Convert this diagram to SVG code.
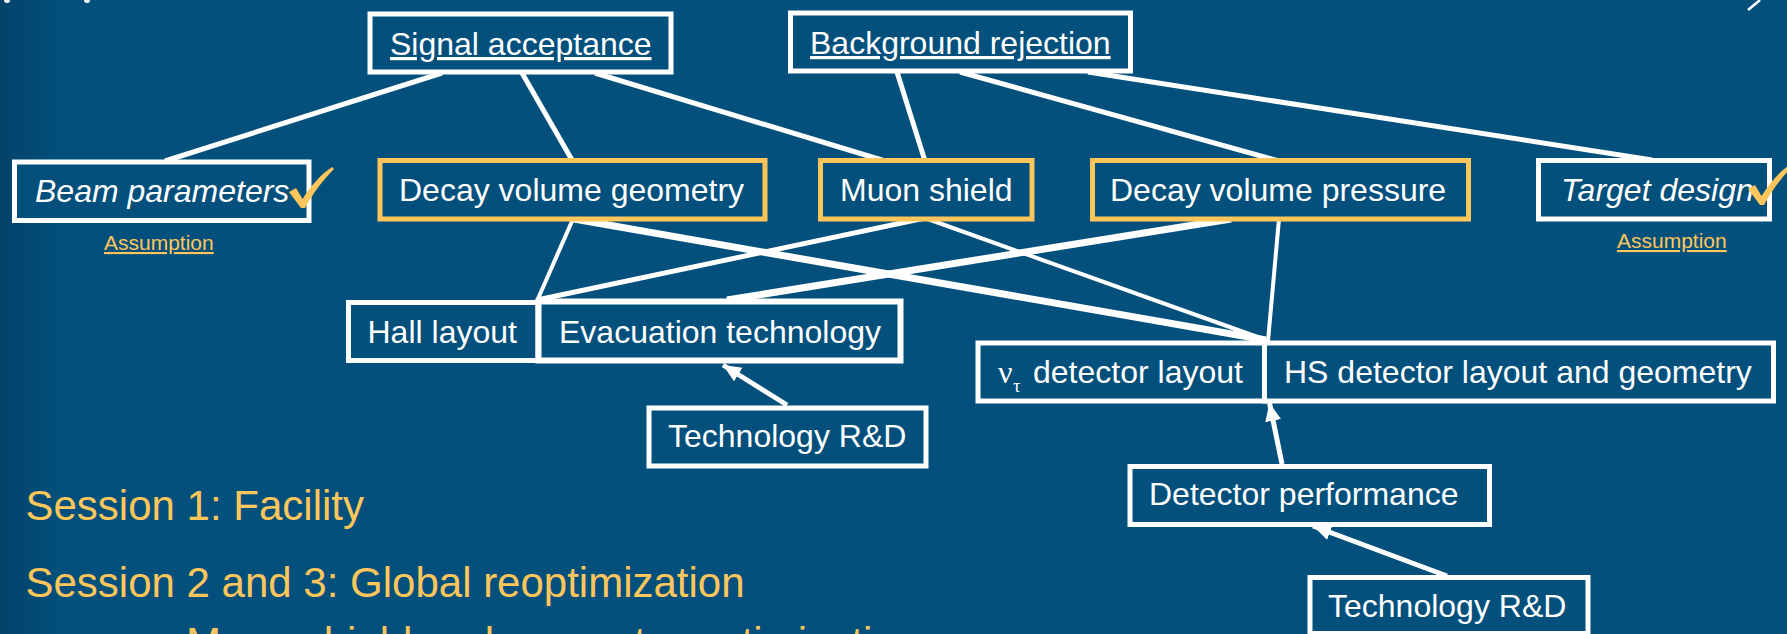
<svg xmlns="http://www.w3.org/2000/svg" width="1787" height="634" viewBox="0 0 1787 634">
<defs>
<linearGradient id="bgL" x1="0" y1="0" x2="1" y2="0">
<stop offset="0" stop-color="#03436B"/>
<stop offset="1" stop-color="#02507B"/>
</linearGradient>
<marker id="ah" markerUnits="userSpaceOnUse" markerWidth="24" markerHeight="20" refX="18" refY="8" orient="auto">
<path d="M0,0 L18,8 L0,16 Z" fill="#FFFFFF"/>
</marker>
<style>
.box{fill:#02507B;stroke:#FFFFFF;stroke-width:5}
.obox{fill:#02507B;stroke:#FFC65C;stroke-width:5}
.t{font-family:"Liberation Sans",Arial,sans-serif;font-size:32px;fill:#FFFFFF}
.it{font-style:italic}
.ul{text-decoration:underline}
.as{font-family:"Liberation Sans",Arial,sans-serif;font-size:21px;fill:#FFC65C;text-decoration:underline}
.ses{font-family:"Liberation Sans",Arial,sans-serif;font-size:42px;fill:#FFC65C}
.c{stroke:#FFFFFF;stroke-width:5;fill:none;stroke-linecap:butt}
.chk{fill:#FFC65C}
</style>
</defs>
<rect x="0" y="0" width="1787" height="634" fill="#02507B"/>
<rect x="0" y="0" width="60" height="634" fill="url(#bgL)"/>
<circle cx="7" cy="0" r="3" fill="#FFFFFF"/>
<circle cx="87" cy="0" r="3" fill="#FFFFFF"/>
<line x1="1748" y1="10" x2="1760" y2="0" stroke="#FFFFFF" stroke-width="2.5"/>

<g id="connectors">
<line class="c" x1="442" y1="73" x2="165" y2="161"/>
<line class="c" x1="522" y1="73" x2="572" y2="160"/>
<line class="c" x1="595" y1="73" x2="885" y2="161"/>
<line class="c" x1="897" y1="72" x2="925" y2="161"/>
<line class="c" x1="960" y1="72" x2="1279" y2="161"/>
<line class="c" x1="1088" y1="72" x2="1652" y2="160"/>
<line class="c" x1="573" y1="219" x2="537" y2="301" style="stroke-width:4"/>
<line class="c" x1="574" y1="219" x2="1266" y2="340" style="stroke-width:7"/>
<line class="c" x1="925" y1="218" x2="537" y2="300"/>
<line class="c" x1="925" y1="218" x2="1266" y2="340" style="stroke-width:4"/>
<line class="c" x1="1231" y1="219" x2="727" y2="300" style="stroke-width:7"/>
<line class="c" x1="1279" y1="219" x2="1268" y2="341" style="stroke-width:4"/>
<line class="c" x1="787" y1="405" x2="723" y2="365" marker-end="url(#ah)"/>
<line class="c" x1="1282" y1="464" x2="1269.5" y2="403" marker-end="url(#ah)"/>
<line class="c" x1="1447" y1="576" x2="1313" y2="526" marker-end="url(#ah)"/>
</g>

<g id="signal-acceptance">
<rect class="box" x="370" y="14" width="301" height="58"/>
<text class="t ul" x="390" y="55">Signal acceptance</text>
</g>
<g id="background-rejection">
<rect class="box" x="790.5" y="13" width="340" height="58"/>
<text class="t ul" x="810" y="54">Background rejection</text>
</g>
<g id="beam-parameters">
<rect class="box" x="14.5" y="162" width="294.5" height="58.5"/>
<text class="t it" x="35" y="202">Beam parameters</text>
<path class="chk" d="M289,192 L296,188 L302.5,199 C311,186 320,175 332,167 L334,169 C323,180 313,193 305,208 L301,208 Z"/>
<text class="as" x="104" y="250">Assumption</text>
</g>
<g id="decay-volume-geometry">
<rect class="obox" x="380" y="160.5" width="385" height="58.5"/>
<text class="t" x="399" y="201">Decay volume geometry</text>
</g>
<g id="muon-shield">
<rect class="obox" x="820.5" y="160.5" width="211.5" height="58.5"/>
<text class="t" x="840" y="201">Muon shield</text>
</g>
<g id="decay-volume-pressure">
<rect class="obox" x="1092.5" y="160.5" width="376" height="58.5"/>
<text class="t" x="1110" y="201">Decay volume pressure</text>
</g>
<g id="target-design">
<rect class="box" x="1538.5" y="160.5" width="231" height="58.5"/>
<text class="t it" x="1561" y="201">Target design</text>
<path class="chk" d="M1748,189 L1755,185 L1761.5,196 C1770,183 1779,172 1791,164 L1793,166 C1782,177 1772,190 1764,205 L1760,205 Z"/>
<text class="as" x="1617" y="248">Assumption</text>
</g>
<g id="hall-layout">
<rect class="box" x="348.5" y="302.5" width="189.5" height="58"/>
<text class="t" x="367.5" y="343">Hall layout</text>
</g>
<g id="evacuation-technology">
<rect class="box" x="538.5" y="301.5" width="362" height="59" style="stroke-width:6"/>
<text class="t" x="559" y="343">Evacuation technology</text>
</g>
<g id="technology-rd-1">
<rect class="box" x="649" y="408" width="277" height="58"/>
<text class="t" x="668" y="447">Technology R&amp;D</text>
</g>
<g id="nu-tau-detector-layout">
<rect class="box" x="978" y="343" width="286.5" height="58"/>
<text x="998" y="383" style="font-family:'Liberation Serif','Times New Roman',serif;font-size:32px;fill:#FFFFFF">ν</text>
<text x="1013" y="392" style="font-family:'Liberation Serif','Times New Roman',serif;font-size:19px;fill:#FFFFFF">τ</text>
<text class="t" x="1033" y="383">detector layout</text>
</g>
<g id="hs-detector-layout">
<rect class="box" x="1264.5" y="343" width="509" height="58"/>
<text class="t" x="1284" y="383">HS detector layout and geometry</text>
</g>
<g id="detector-performance">
<rect class="box" x="1130" y="466.5" width="359.5" height="58"/>
<text class="t" x="1149" y="505">Detector performance</text>
</g>
<g id="technology-rd-2">
<rect class="box" x="1310" y="577.5" width="278" height="56"/>
<text class="t" x="1328" y="617">Technology R&amp;D</text>
</g>

<g id="session-text">
<text class="ses" x="25.5" y="520">Session 1: Facility</text>
<text class="ses" x="25.5" y="597">Session 2 and 3: Global reoptimization</text>
<text class="ses" x="186" y="657">Muon shield and magnet reoptimization</text>
</g>
</svg>
